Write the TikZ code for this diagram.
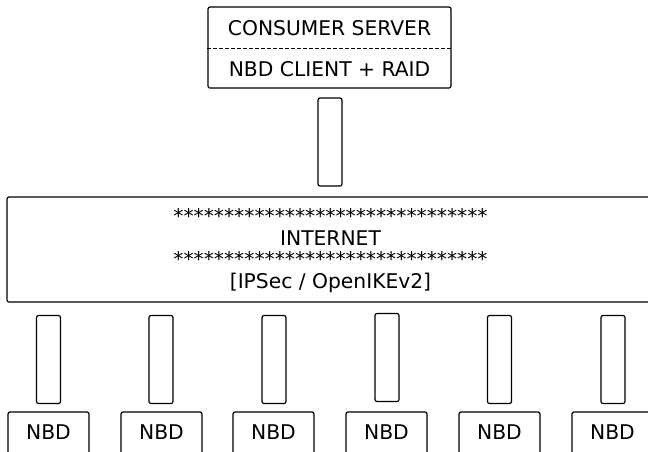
\documentclass[tikz,border=0pt]{standalone}
\usepackage{fontspec}
\setmainfont{DejaVu Sans}
\begin{document}
\begin{tikzpicture}[x=0.75pt,y=-0.75pt,
  box/.style={draw, line width=0.9pt, rounded corners=1.5pt, inner sep=0pt, fill=white},
  cable/.style={box, minimum width=18pt, minimum height=66pt},
  nbdbox/.style={box, minimum width=60.75pt, minimum height=36pt},
  lbl/.style={anchor=base, inner sep=0pt, font=\fontsize{15.2}{18}\selectfont}]
\useasboundingbox (0,0) rectangle (648,451);
\clip (0,0) rectangle (648,451);
% consumer server
\node[box, minimum width=182.25pt, minimum height=60.75pt] (server) at (329.5,47.5) {};
\draw[line width=0.9pt, dash pattern=on 3pt off 1.5pt] (server.west |- 0,48.5) coordinate (dl) -- (server.east |- 0,48.5) coordinate (dr);
\node[lbl] (t1) at (329.5,35) {CONSUMER SERVER};
\node[lbl] (t2) at (329.5,76) {NBD CLIENT + RAID};
% top cable
\node[cable] (c0) at (330,142) {};
% internet
\node[box, minimum width=485.25pt, minimum height=78.75pt] (net) at (330.5,249.5) {};
\node[lbl] (s1) at (330.5,223.5) {*******************************};
\node[lbl] (i1) at (330.5,245) {INTERNET};
\node[lbl] (s2) at (330.5,266.5) {*******************************};
\node[lbl] (i2) at (330.5,288) {[IPSec / OpenIKEv2]};
% bottom cables
\node[cable] (c1) at (48.5,359.5) {};
\node[cable] (c2) at (161,359.5) {};
\node[cable] (c3) at (274,359.5) {};
\node[cable] (c4) at (387,357.5) {};
\node[cable] (c5) at (499.5,359.5) {};
\node[cable] (c6) at (613,359.5) {};
% NBD boxes
\foreach \n/\x in {1/48.5,2/161.5,3/273.5,4/386.5,5/499.5,6/612.5}{
  \node[nbdbox] (n\n) at (\x,436) {};
  \node[lbl] (nl\n) at (\x,439) {NBD};
}
\end{tikzpicture}
\end{document}
